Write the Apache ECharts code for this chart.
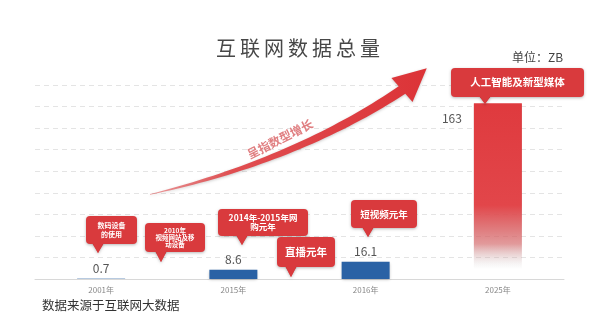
<!DOCTYPE html>
<html>
<head>
<meta charset="utf-8">
<script src="https://cdn.jsdelivr.net/npm/echarts@6/dist/echarts.min.js"></script>
<style>
  html, body { margin: 0; padding: 0; background: #fff; }
  #chart { width: 600px; height: 323px; }
</style>
</head>
<body>
<div id="chart"></div>
<script>
// Total volume of internet data (ZB)
var years = ['2001年', '2015年', '2016年', '2025年'];
var volumes = [0.7, 8.6, 16.1, 163];
var yTicks = { min: 0, max: 180, interval: 20 };

var FONT = '"Noto Sans CJK SC", "Noto Sans", sans-serif';
var BLUE = '#2a62a5';
var RED = '#d93a3d';
var TOP = 20;

// Red speech-bubble annotation: box, pointer and centred white text
function callout(x, y, w, h, px, tipY, text, size, lineH) {
  var shadow = { shadowBlur: 3, shadowColor: 'rgba(0,0,0,0.28)', shadowOffsetY: 1 };
  return {
    type: 'group',
    z: TOP,
    children: [
      {
        type: 'polygon', z: TOP,
        shape: { points: [[px - 6, y + h - 1], [px + 6, y + h - 1], [px, tipY]] },
        style: Object.assign({ fill: RED }, shadow)
      },
      {
        type: 'rect', z: TOP,
        shape: { x: x, y: y, width: w, height: h, r: 4 },
        style: Object.assign({ fill: RED }, shadow)
      },
      {
        type: 'polygon', z: TOP,
        shape: { points: [[px - 6, y + h - 2], [px + 6, y + h - 2], [px, tipY]] },
        style: { fill: RED }
      },
      {
        type: 'text', z: TOP,
        x: x + w / 2,
        y: y + h / 2,
        style: {
          text: text,
          fill: '#fff',
          font: 'bold ' + size + 'px ' + FONT,
          lineHeight: lineH || size + 2,
          align: 'center',
          verticalAlign: 'middle'
        }
      }
    ]
  };
}

// Sample a quadratic curve into points for the arrow outline
function quad(p0, c, p1, n) {
  var pts = [];
  for (var i = 0; i <= n; i++) {
    var t = i / n, u = 1 - t;
    pts.push([
      u * u * p0[0] + 2 * u * t * c[0] + t * t * p1[0],
      u * u * p0[1] + 2 * u * t * c[1] + t * t * p1[1]
    ]);
  }
  return pts;
}

// Arrow: tapered curved shaft plus a triangular head
var tail = [150, 194];
var ctrl = [295, 160];
var base = [402, 90];
var dir = [0.75, -0.66];
var nrm = [0.66, 0.75];
var shaftHalf = 5, headHalf = 16, headLen = 33;
var upperEdge = quad(tail, [ctrl[0], ctrl[1] - 3], [base[0] - nrm[0] * shaftHalf, base[1] - nrm[1] * shaftHalf], 40);
var lowerEdge = quad([base[0] + nrm[0] * shaftHalf, base[1] + nrm[1] * shaftHalf], [ctrl[0] + 2, ctrl[1] + 4], [tail[0], tail[1] + 0.8], 40);
var arrowPoints = upperEdge
  .concat([
    [base[0] - nrm[0] * headHalf, base[1] - nrm[1] * headHalf],
    [base[0] + dir[0] * headLen, base[1] + dir[1] * headLen],
    [base[0] + nrm[0] * headHalf, base[1] + nrm[1] * headHalf]
  ])
  .concat(lowerEdge);

var chart = echarts.init(document.getElementById('chart'), null, { renderer: 'canvas' });

var barData = volumes.map(function (v, i) {
  var item = { value: v };
  if (i === 0) {
    // the 2001 bar is under a pixel tall; keep it flat without a drop shadow
    item.itemStyle = { color: 'rgba(42,98,165,0.45)', shadowBlur: 0, shadowOffsetY: 0 };
  }
  if (i === volumes.length - 1) {
    item.itemStyle = {
      color: {
        type: 'linear', x: 0, y: 0, x2: 0, y2: 1,
        colorStops: [
          { offset: 0, color: '#df3a3e' },
          { offset: 0.58, color: '#e2464a' },
          { offset: 0.8, color: 'rgba(232,112,114,0.6)' },
          { offset: 0.94, color: 'rgba(255,255,255,0)' }
        ]
      },
      shadowBlur: 0
    };
    item.label = {
      position: [-12, 15],
      align: 'right',
      verticalAlign: 'middle'
    };
  }
  return item;
});

chart.setOption({
  backgroundColor: '#fff',
  animation: false,
  grid: { left: 35, right: 36, top: 85, bottom: 44 },
  xAxis: {
    type: 'category',
    data: years,
    axisLine: { lineStyle: { color: '#d8d8d8', width: 1 } },
    axisTick: { show: false },
    axisLabel: { color: '#888', fontSize: 8, fontFamily: FONT, margin: 7 }
  },
  yAxis: {
    type: 'value',
    min: yTicks.min,
    max: yTicks.max,
    interval: yTicks.interval,
    axisLine: { show: false },
    axisTick: { show: false },
    axisLabel: { show: false },
    splitLine: { lineStyle: { color: '#e4e4e4', type: [5, 4], width: 1 } }
  },
  series: [{
    type: 'bar',
    data: barData,
    barWidth: 48,
    itemStyle: {
      color: BLUE,
      shadowBlur: 3,
      shadowColor: 'rgba(0,0,0,0.25)',
      shadowOffsetY: 1
    },
    label: {
      show: true,
      position: 'top',
      distance: 4,
      color: '#555',
      fontSize: 12,
      fontFamily: FONT
    }
  }],
  graphic: [
    {
      type: 'text', z: TOP,
      x: 298,
      y: 48,
      style: {
        text: '互\u2009联\u2009网\u2009数\u2009据\u2009总\u2009量',
        fill: '#474747',
        font: '20px ' + FONT,
        align: 'center',
        verticalAlign: 'middle'
      }
    },
    {
      type: 'text', z: TOP,
      x: 512,
      y: 57,
      style: { text: '单位：ZB', fill: '#444', font: '12px ' + FONT, verticalAlign: 'middle' }
    },
    {
      type: 'text', z: TOP,
      x: 42,
      y: 305,
      style: { text: '数据来源于互联网大数据', fill: '#333', font: '12.5px ' + FONT, verticalAlign: 'middle' }
    },
    {
      type: 'polygon', z: TOP,
      shape: { points: arrowPoints },
      style: {
        fill: {
          type: 'linear', x: 0, y: 0, x2: 1, y2: 0,
          colorStops: [
            { offset: 0, color: 'rgba(225,80,82,0.55)' },
            { offset: 0.3, color: '#e04e51' },
            { offset: 1, color: '#dc3337' }
          ]
        },
        shadowBlur: 3,
        shadowColor: 'rgba(0,0,0,0.22)',
        shadowOffsetY: 1
      }
    },
    {
      type: 'text', z: TOP,
      x: 280,
      y: 139,
      rotation: 0.47,
      style: {
        text: '呈指数型增长',
        fill: '#e07e80',
        font: 'bold 12px ' + FONT,
        align: 'center',
        verticalAlign: 'middle'
      }
    },
    callout(86, 216, 51, 28, 98, 253, '数码设备\n的使用', 7, 8.5),
    callout(145, 223, 60, 29, 161, 262, '2010年\n视频网站及移\n动设备', 6.5, 7),
    callout(218, 209, 90, 27, 242, 245, '2014年-2015年网\n购元年', 8.5, 9.5),
    callout(277, 237, 58, 30, 291, 277, '直播元年', 10.5),
    callout(351, 200, 66, 28, 368, 237, '短视频元年', 9.5),
    callout(451, 68, 133, 29, 485, 104, '人工智能及新型媒体', 10.5)
  ]
});
</script>
</body>
</html>
